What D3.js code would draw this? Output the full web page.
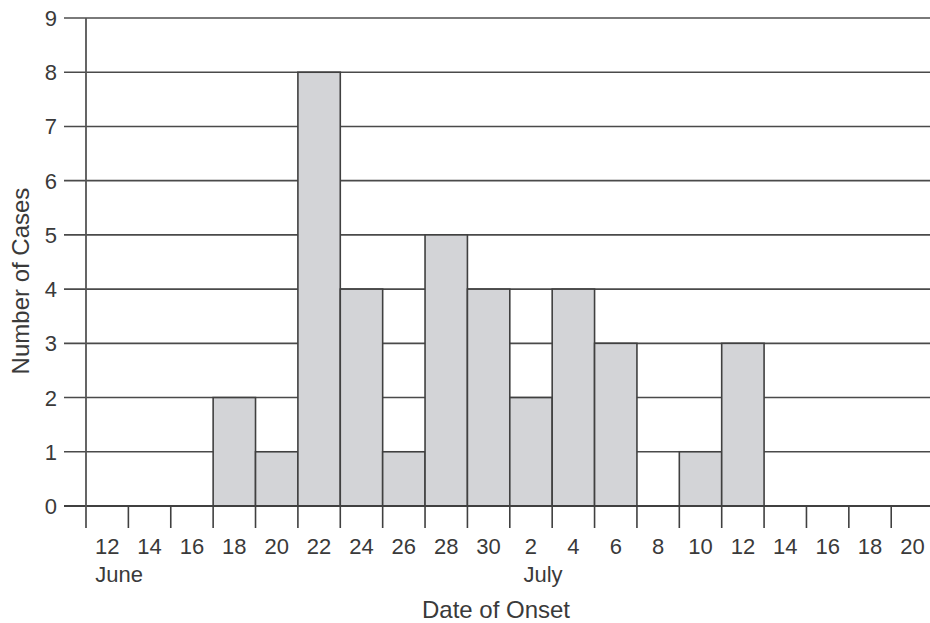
<!DOCTYPE html>
<html>
<head>
<meta charset="utf-8">
<script src="https://cdn.jsdelivr.net/npm/d3@7/dist/d3.min.js"></script>
<style>
  html, body { margin: 0; padding: 0; background: #fff; }
  svg { display: block; }
  text { font-family: "Liberation Sans", Arial, sans-serif; fill: #3a3a3a; }
</style>
</head>
<body>
<svg id="chart" width="930" height="623"></svg>
<script>
// Data: cases by 2-day onset interval (June 12 – July 20)
const binLabels = ["12","14","16","18","20","22","24","26","28","30",
                   "2","4","6","8","10","12","14","16","18","20"];
const cases     = [0, 0, 0, 2, 1, 8, 4, 1, 5, 4,
                   2, 4, 3, 0, 1, 3, 0, 0, 0, 0];
const yTicks    = [0,1,2,3,4,5,6,7,8,9];
const monthLabels = [{ name: "June", bin: 0 }, { name: "July", bin: 10 }];

const svg = d3.select("#chart");
const x0 = 86, zeroY = 506, topY = 18, binW = 42.38;

const x = d3.scaleLinear().domain([0, binLabels.length]).range([x0, x0 + binW * binLabels.length]);
const y = d3.scaleLinear().domain([0, 9]).range([zeroY, topY]);

// Gridlines (with left tick extension)
svg.append("g").selectAll("line").data(yTicks.filter(d => d > 0)).join("line")
  .attr("x1", 64).attr("x2", 930)
  .attr("y1", d => y(d)).attr("y2", d => y(d))
  .attr("stroke", d => d === 9 ? "#7a7a7a" : "#4a4a4a")
  .attr("stroke-width", d => d === 9 ? 2 : 1.6);

// Bars
svg.append("g").selectAll("rect").data(cases.map((v, i) => ({ v, i })).filter(d => d.v > 0)).join("rect")
  .attr("x", d => x(d.i)).attr("width", d => x(d.i + 1) - x(d.i))
  .attr("y", d => y(d.v)).attr("height", d => y(0) - y(d.v))
  .attr("fill", "#d3d4d7").attr("stroke", "#404040").attr("stroke-width", 1.6);

// Y axis labels
svg.append("g").selectAll("text").data(yTicks).join("text")
  .attr("x", 57).attr("y", d => y(d) + 8)
  .attr("text-anchor", "end").attr("font-size", 22)
  .text(d => d);

// Zero line
svg.append("line").attr("x1", 64).attr("x2", 930).attr("y1", zeroY).attr("y2", zeroY)
  .attr("stroke", "#404040").attr("stroke-width", 1.8);

// Y axis line
svg.append("line").attr("x1", x0).attr("x2", x0).attr("y1", topY).attr("y2", 528)
  .attr("stroke", "#555").attr("stroke-width", 1.8);

// X ticks at bin boundaries
svg.append("g").selectAll("line").data(d3.range(1, binLabels.length + 1)).join("line")
  .attr("x1", d => x(d)).attr("x2", d => x(d))
  .attr("y1", zeroY).attr("y2", 528)
  .attr("stroke", "#404040").attr("stroke-width", 1.6);

// X labels (centered in bins)
svg.append("g").selectAll("text").data(binLabels).join("text")
  .attr("x", (d, i) => x(i + 0.5)).attr("y", 554)
  .attr("text-anchor", "middle").attr("font-size", 22)
  .text(d => d);

// Month labels
svg.append("g").selectAll("text").data(monthLabels).join("text")
  .attr("x", d => x(d.bin + 0.5) + 12).attr("y", 582)
  .attr("text-anchor", "middle").attr("font-size", 22)
  .text(d => d.name);

// Axis titles
svg.append("text").attr("x", 496).attr("y", 618)
  .attr("text-anchor", "middle").attr("font-size", 24)
  .text("Date of Onset");

svg.append("text")
  .attr("transform", "translate(29,281) rotate(-90)")
  .attr("text-anchor", "middle").attr("font-size", 24)
  .text("Number of Cases");
</script>
</body>
</html>
